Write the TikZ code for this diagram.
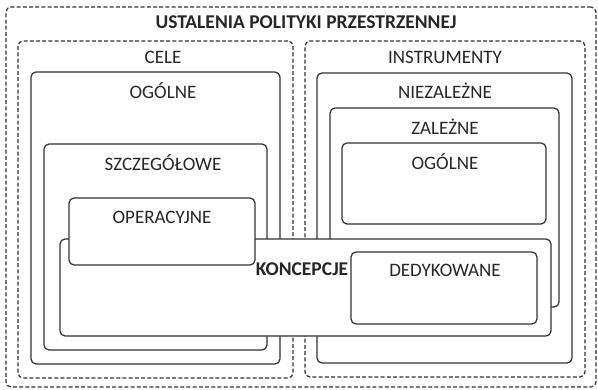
\documentclass[tikz,border=0pt]{standalone}
\usepackage{fontspec}
\setmainfont{Carlito}
\definecolor{ln}{HTML}{333333}
\definecolor{tx}{HTML}{262626}
\tikzset{
  box/.style={draw=ln, line width=1.25pt, rounded corners=5pt, inner sep=0pt, outer sep=0pt, anchor=north west},
  dbox/.style={box, dashed, dash pattern=on 4pt off 2.2pt},
  wbox/.style={box, fill=white},
  lbl/.style={text=tx, font=\fontsize{19}{21}\selectfont, inner sep=0pt},
  blbl/.style={lbl, font=\fontsize{19.5}{21}\selectfont\bfseries},
}
\newcommand{\bx}[6]{\node[#1, minimum width=#4pt-#2pt, minimum height=#5pt-#3pt] (#6) at (#2,#3) {};}
\begin{document}
\begin{tikzpicture}[x=1pt,y=-1pt]
\useasboundingbox (0,0) rectangle (598,389);
% outer
\bx{dbox}{6}{7}{596}{387}{outer}
\node[blbl] (title) at (306,22) {USTALENIA POLITYKI PRZESTRZENNEJ};
% CELE side
\bx{dbox}{18}{41}{293}{378}{cele}
\node[lbl] (celel) at (163,57) {CELE};
\bx{box}{31}{72}{280}{364}{cog}
\node[lbl] (cogl) at (163,91) {OGÓLNE};
\bx{box}{44}{144}{267}{350}{szcz}
\node[lbl] (szczl) at (163,163) {SZCZEGÓŁOWE};
% INSTRUMENTY side
\bx{dbox}{305}{41}{585}{377}{instr}
\node[lbl] (instrl) at (445,57) {INSTRUMENTY};
\bx{box}{317}{73}{572}{363}{niez}
\node[lbl] (niezl) at (445,91) {NIEZALEŻNE};
\bx{box}{330}{108}{559}{307}{zal}
\node[lbl] (zall) at (445,127) {ZALEŻNE};
\bx{box}{342}{143}{546}{224}{iog}
\node[lbl] (iogl) at (445,162) {OGÓLNE};
% KONCEPCJE
\bx{wbox}{60}{239}{551}{336}{konc}
\node[blbl] (koncl) at (302,269) {KONCEPCJE};
\bx{wbox}{69}{198}{255}{265}{oper}
\node[lbl] (operl) at (162,217) {OPERACYJNE};
\bx{wbox}{351}{252}{537}{324}{dedy}
\node[lbl] (dedyl) at (445,270) {DEDYKOWANE};
\end{tikzpicture}
\end{document}
